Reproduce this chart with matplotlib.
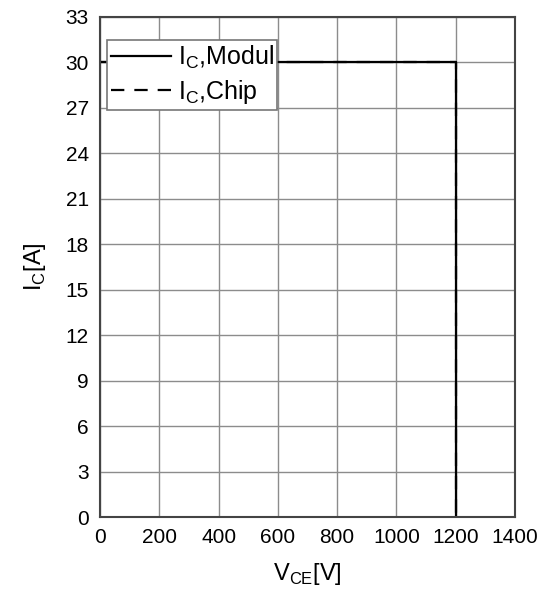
import matplotlib.pyplot as plt

# RBSOA data
vce_modul = [0, 1200, 1200]
ic_modul = [30, 30, 0]
vce_chip = [0, 1200, 1200]
ic_chip = [30, 30, 0]

x_ticks = [0, 200, 400, 600, 800, 1000, 1200, 1400]
y_ticks = [0, 3, 6, 9, 12, 15, 18, 21, 24, 27, 30, 33]

plt.rcParams['font.family'] = ['Liberation Sans', 'DejaVu Sans']
plt.rcParams['mathtext.fontset'] = 'custom'
plt.rcParams['mathtext.rm'] = 'Liberation Sans'

fig = plt.figure(figsize=(5.5, 5.97), dpi=100)
ax = fig.add_axes([0.182, 0.134, 0.754, 0.838])

ax.plot(vce_chip, ic_chip, color='black', linestyle=(0, (6, 4.5)), linewidth=1.6,
        label=r'I$_\mathregular{C}$,Chip')
ax.plot(vce_modul, ic_modul, color='black', linestyle='-', linewidth=1.6,
        label=r'I$_\mathregular{C}$,Modul')

ax.set_xlim(0, 1400)
ax.set_ylim(0, 33)
ax.set_xticks(x_ticks)
ax.set_yticks(y_ticks)
ax.tick_params(length=0, labelsize=15, pad=8)
ax.grid(True, color='#8c8c8c', linewidth=1.0)
ax.set_axisbelow(True)
for s in ax.spines.values():
    s.set_color('#444444')
    s.set_linewidth(1.5)

ax.set_xlabel(r'V$_\mathregular{CE}$[V]', fontsize=17, labelpad=10)
ax.set_ylabel(r'I$_\mathregular{C}$[A]', fontsize=17, labelpad=13)

handles, labels = ax.get_legend_handles_labels()
leg = ax.legend(handles[::-1], labels[::-1], loc='upper left',
                bbox_to_anchor=(7 / 415, 1 - 23 / 500), fontsize=18,
                frameon=True, fancybox=False, edgecolor='#777777', framealpha=1,
                handlelength=2.4, handletextpad=0.28, borderpad=0.15,
                labelspacing=0.3, borderaxespad=0)
leg.get_frame().set_linewidth(1.2)

fig.savefig('out.png', dpi=100)
